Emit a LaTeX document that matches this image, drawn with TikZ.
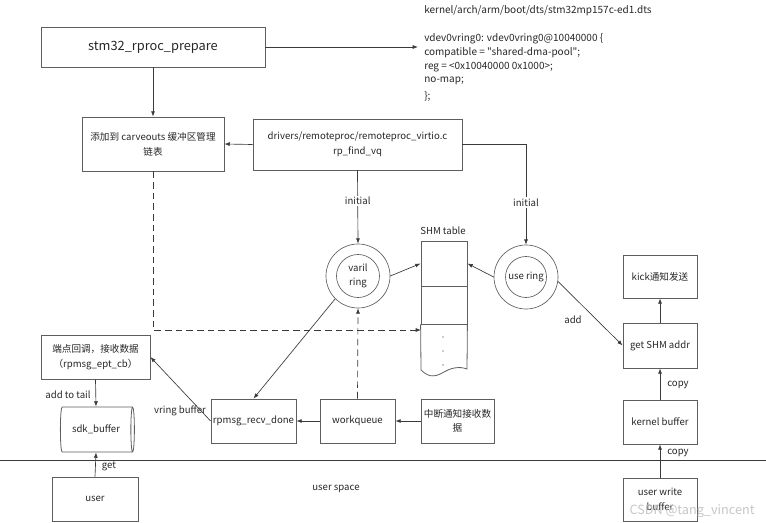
\documentclass[tikz,border=0pt]{standalone}
\usepackage{fontspec}
\setmainfont{Noto Sans CJK SC}
\newfontfamily\dtsfont{Noto Sans CJK SC}[Ligatures=TeXOff]
\usetikzlibrary{arrows.meta,shapes.geometric}
\definecolor{ln}{HTML}{3A3A3A}
\definecolor{bd}{HTML}{5E5E5E}
\definecolor{tx}{HTML}{262626}
\begin{document}
\begin{tikzpicture}[x=0.75pt,y=-0.75pt,
  every node/.style={text=tx, font=\fontsize{7.2}{11}\selectfont},
  box/.style={draw=bd, line width=0.6pt, rectangle, align=center, inner sep=1pt},
  sz/.style 2 args={minimum width=#1*0.75pt, minimum height=#2*0.75pt},
  ar/.style={draw=ln, line width=0.5pt, -{Latex[length=4pt,width=3pt]}},
  lbl/.style={fill=white, inner sep=1pt},
  ring/.style={draw=bd, circle, line width=0.5pt, inner sep=0pt, align=center},
  dts/.style={anchor=west, inner sep=0pt, font=\dtsfont\fontsize{7.5}{11}\selectfont}]
\useasboundingbox (0,0) rectangle (766,523);

% top
\node[box, sz={224}{40}, font=\fontsize{9.6}{12}\selectfont] (prep) at (153,47) {stm32\_rproc\_prepare};
\node[dts] (dts0) at (424,11) {kernel/arch/arm/boot/dts/stm32mp157c-ed1.dts};
\node[dts] (dts1) at (424,39) {vdev0vring0: vdev0vring0@10040000 \{};
\node[dts] (dts2) at (424,53) {compatible = "shared-dma-pool";};
\node[dts] (dts3) at (424,67) {reg = <0x10040000 0x1000>;};
\node[dts] (dts4) at (424,81) {no-map;};
\node[dts] (dts5) at (424,96) {\};};
\coordinate (dtsin) at (418,47);
\draw[ar] (prep.east) -- (dtsin);

\node[box, sz={142}{54}] (carve) at (153,144) {添加到 carveouts 缓冲区管理\\链表};
\draw[ar] (prep.south) -- (carve.north);
\node[box, sz={209}{51}] (drv) at (357.5,144.5) {drivers/remoteproc/remoteproc\_virtio.c\\rp\_find\_vq};
\draw[ar] (drv.west) -- (carve.east);

% rings
\node[ring, minimum size=64*0.75pt] (varil) at (358,276) {};
\node[ring, minimum size=43*0.75pt] (varilin) at (358,276) {varil\\ring};
\node[ring, minimum size=64*0.75pt] (use) at (526,277) {};
\node[ring, minimum size=41*0.75pt] (usein) at (526,277) {use ring};

\draw[ar] (drv.south) -- node[lbl, pos=0.42] (ini1) {initial} (varil.north);
\draw[ar] (drv.east) -| node[lbl, pos=0.79] (ini2) {initial} (use.north);

% SHM table
\node (shmlbl) at (443,231) {SHM table};
\node[draw=bd, line width=0.6pt, sz={46}{45}, inner sep=0pt] (shm1) at (444,263.5) {};
\node[draw=bd, line width=0.6pt, sz={46}{38}, inner sep=0pt] (shm2) at (444,305) {};
\draw[draw=bd, line width=0.6pt] (shm2.south west) -- (421,370)
  .. controls (430,379) and (437,376) .. (444,372)
  .. controls (451,368) and (459,366) .. (467,369) -- (shm2.south east);
\fill[tx] (443,337) circle (0.55pt) (443,351) circle (0.55pt) (443,365) circle (0.55pt);
\coordinate (shm3) at (421,330);

\draw[ar] (varil.east) -- (shm1.west);
\draw[ar] (use.west) -- (shm1.east);

% right column
\node[box, sz={74}{43}] (kick) at (660,276.5) {kick通知发送};
\node[box, sz={74}{45}] (getshm) at (660,345.5) {get SHM addr};
\node[box, sz={74}{44}] (kernel) at (660,422) {kernel buffer};
\node[box, sz={74}{43}] (uwrite) at (660,499.5) {user write\\buffer};
\draw[ar] (use.-8) -- (getshm.west);
\node (addlbl) at (573,320) {add};
\draw[ar] (getshm.north) -- (kick.south);
\draw[ar] (kernel.north) -- (getshm.south);
\node (cp1) at (678,385) {copy};
\draw[ar] (uwrite.north) -- (kernel.south);
\node (cp2) at (678,453) {copy};

% bottom row
\node[box, sz={85}{44}] (rpmsg) at (253.5,421) {rpmsg\_recv\_done};
\node[box, sz={75}{44}] (wq) at (357.5,421) {workqueue};
\node[box, sz={73}{44}] (irq) at (457.5,421) {中断通知接收数\\据};
\draw[ar] (irq.west) -- (wq.east);
\draw[ar] (wq.west) -- (rpmsg.east);
\draw[ar, dashed, dash pattern=on 5pt off 3pt] (wq.north) -- (varil.south);
\draw[ar] (varil.225) -- (rpmsg.north);
\draw[ar, dashed, dash pattern=on 5pt off 3pt] (carve.south) |- (shm3);

% left column
\node[box, sz={109}{44}] (ept) at (95.5,357) {端点回调，接收数据\\（rpmsg\_ept\_cb）};
\draw[ar] (rpmsg.west) -- (ept.east);
\node (vbl) at (180,411) {vring buffer};
\node[cylinder, draw=bd, line width=0.6pt, shape aspect=0.3, minimum height=74*0.75pt, minimum width=45*0.75pt, inner sep=1pt] (sdk) at (96,429.5) {sdk\_buffer};
\draw[ar] (ept.south) -- (sdk.north);
\node (atl) at (68,395) {add to tail};
\node[box, sz={86}{44}] (user) at (95,499) {user};
\draw[ar] (user.north) -- (sdk.south);
\node (getl) at (109,466) {get};

% user space line
\coordinate (hl) at (0,460);
\coordinate (hr) at (766,460);
\draw[draw=ln, line width=0.6pt] (hl) -- (hr);
\node (usp) at (336,489) {user space};

% watermark
\node[text=gray!45, font=\fontsize{9.5}{11}\selectfont] (wm) at (692,511) {CSDN @tang\_vincent};
\end{tikzpicture}
\end{document}
